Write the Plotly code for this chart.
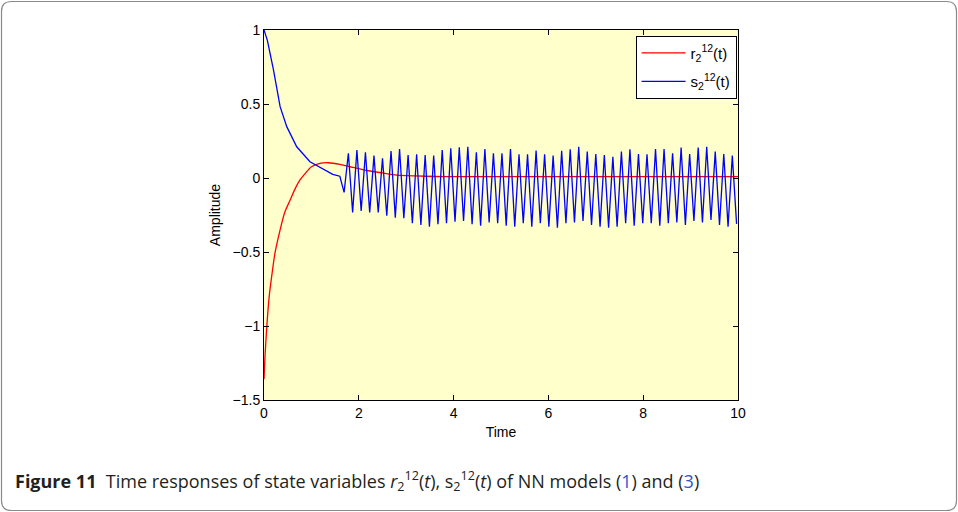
import plotly.graph_objects as go

# ---- data ----
r_t = [0.0, 0.02, 0.06, 0.11, 0.16, 0.23, 0.34, 0.44, 0.55, 0.66, 0.76, 0.88, 1.0, 1.18, 1.36,
       1.6, 1.81, 2.0, 2.2, 2.5, 2.8, 3.2, 3.6, 4.0, 5.0, 6.0, 7.0, 8.0, 9.0, 10.0]
r_vals = [-1.36, -1.21, -1.0, -0.80, -0.67, -0.51, -0.35, -0.23, -0.15, -0.07, -0.013, 0.035, 0.076,
          0.099, 0.103, 0.092, 0.076, 0.063, 0.049, 0.034, 0.02, 0.014, 0.010, 0.009, 0.009,
          0.009, 0.009, 0.009, 0.009, 0.009]

s_t_early = [0.0, 0.07, 0.2, 0.34, 0.48, 0.69, 0.97, 1.25, 1.45, 1.6]
s_vals_early = [1.0, 0.932, 0.73, 0.482, 0.347, 0.211, 0.110, 0.059, 0.025, 0.012]

s_t_osc = [1.69, 1.78, 1.87, 1.96, 2.05, 2.14, 2.23, 2.32, 2.41, 2.50, 2.59, 2.68, 2.77, 2.86, 2.95,
           3.04, 3.13, 3.22, 3.31, 3.40, 3.49, 3.58, 3.67, 3.76, 3.85, 3.94, 4.03, 4.12, 4.21, 4.30,
           4.39, 4.48, 4.57, 4.66, 4.75, 4.84, 4.93, 5.02, 5.11, 5.20, 5.29, 5.38, 5.47, 5.56, 5.65,
           5.74, 5.83, 5.92, 6.01, 6.10, 6.19, 6.28, 6.37, 6.46, 6.55, 6.64, 6.73, 6.82, 6.91, 7.00,
           7.09, 7.18, 7.27, 7.36, 7.45, 7.54, 7.63, 7.72, 7.81, 7.90, 7.99, 8.08, 8.17, 8.26, 8.35,
           8.44, 8.53, 8.62, 8.71, 8.80, 8.89, 8.98, 9.07, 9.16, 9.25, 9.34, 9.43, 9.52, 9.61, 9.70,
           9.79, 9.88, 9.97]
s_vals_osc = [-0.097,
              0.167, -0.232, 0.189, -0.223, 0.174, -0.232, 0.151, -0.232, 0.133, -0.255,
              0.182, -0.268, 0.196, -0.272, 0.155, -0.306, 0.160, -0.318, 0.155, -0.329,
              0.151, -0.313,
              0.189, -0.306, 0.200, -0.295, 0.207, -0.291, 0.211, -0.313, 0.174, -0.322,
              0.196, -0.300, 0.167, -0.306, 0.167, -0.322, 0.196, -0.329, 0.160, -0.306,
              0.160, -0.329, 0.185, -0.306,
              0.160, -0.329, 0.151, -0.336, 0.184, -0.306, 0.194, -0.300, 0.211, -0.291,
              0.178, -0.318, 0.162, -0.329, 0.155, -0.336, 0.144, -0.329, 0.178, -0.306,
              0.194, -0.322,
              0.162, -0.306, 0.160, -0.306, 0.196, -0.322, 0.196, -0.306, 0.167, -0.300,
              0.205, -0.318, 0.162, -0.291, 0.205, -0.300, 0.211, -0.284, 0.178, -0.318,
              0.162, -0.329, 0.151, -0.310]

s_t = s_t_early + s_t_osc
s_vals = s_vals_early + s_vals_osc

x_ticks = [0, 2, 4, 6, 8, 10]
y_ticks = [-1.5, -1, -0.5, 0, 0.5, 1]
y_tick_labels = ["\u22121.5", "\u22121", "\u22120.5", "0", "0.5", "1"]

series_names = ["r<sub>2</sub><sup>12</sup>(t)", "s<sub>2</sub><sup>12</sup>(t)"]
caption = ("<b>Figure 11</b>  Time responses of state variables "
           "<i>r</i><sub>2</sub><sup>12</sup>(<i>t</i>), s<sub>2</sub><sup>12</sup>(<i>t</i>) "
           "of NN models (<span style='color:#3355cc'>1</span>) and "
           "(<span style='color:#3355cc'>3</span>)")

# ---- layout geometry (pixels) ----
W, H = 958, 512
L, R, T, B = 264, 738, 30, 400


def px(xp):
    return (xp - L) / (R - L)


def py(yp):
    return (B - yp) / (B - T)


fig = go.Figure()
fig.add_trace(go.Scatter(x=r_t, y=r_vals, mode="lines", name=series_names[0], legendgroup="r",
                         line=dict(color="#ff0000", width=1.3, shape="spline", smoothing=0.6)))
fig.add_trace(go.Scatter(x=s_t, y=s_vals, mode="lines", name=series_names[1], legendgroup="s",
                         line=dict(color="#0000ff", width=1.3)))

tick_font = dict(family="Liberation Sans, Arial", size=14, color="black")
axis_common = dict(showline=True, linecolor="black", linewidth=1, mirror="ticks",
                   ticks="inside", ticklen=5, tickcolor="black", showgrid=False,
                   zeroline=False, tickfont=tick_font)

fig.update_xaxes(range=[0, 10], tickvals=x_ticks, ticktext=[str(v) for v in x_ticks],
                 title=dict(text="Time", font=tick_font, standoff=7),
                 **axis_common)
fig.update_yaxes(range=[-1.5, 1], tickvals=y_ticks, ticktext=y_tick_labels,
                 title=dict(text="Amplitude", font=tick_font, standoff=8),
                 **axis_common)

# rounded frame around the whole figure
x0, y0, x1, y1, rad = 1.5, 1.5, W - 1.5, H - 1.5, 10
path = (f"M {px(x0 + rad)},{py(y0)} L {px(x1 - rad)},{py(y0)} "
        f"Q {px(x1)},{py(y0)} {px(x1)},{py(y0 + rad)} "
        f"L {px(x1)},{py(y1 - rad)} Q {px(x1)},{py(y1)} {px(x1 - rad)},{py(y1)} "
        f"L {px(x0 + rad)},{py(y1)} Q {px(x0)},{py(y1)} {px(x0)},{py(y1 - rad)} "
        f"L {px(x0)},{py(y0 + rad)} Q {px(x0)},{py(y0)} {px(x0 + rad)},{py(y0)} Z")
fig.add_shape(type="path", xref="paper", yref="paper", path=path,
              line=dict(color="#8a8a8a", width=1.2), layer="below")

fig.add_annotation(xref="paper", yref="paper", x=px(13), y=py(481), xanchor="left", yanchor="middle",
                   text=caption, showarrow=False, align="left",
                   font=dict(family="Open Sans, Noto Sans", size=18, color="#231f20"))

fig.update_layout(
    width=W, height=H,
    margin=dict(l=L, r=W - R, t=T, b=H - B),
    paper_bgcolor="white", plot_bgcolor="#ffffcc",
    showlegend=True,
    legend=dict(x=0.997, y=0.985, xanchor="right", yanchor="top",
                bgcolor="white", bordercolor="black", borderwidth=1,
                font=dict(family="Liberation Sans, Arial", size=15, color="black"),
                traceorder="grouped", tracegroupgap=6, itemwidth=44),
)

fig.write_html("out.html", config={"displayModeBar": False},
               post_script="document.body.style.margin='0';")
